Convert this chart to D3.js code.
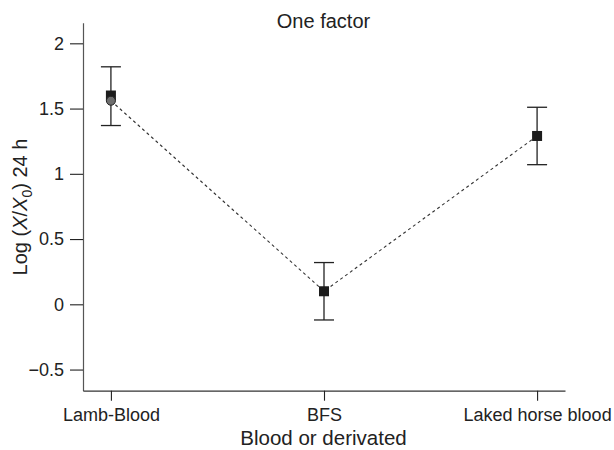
<!DOCTYPE html>
<html>
<head>
<meta charset="utf-8">
<script src="https://cdn.jsdelivr.net/npm/d3@7"></script>
<style>
  html, body { margin: 0; padding: 0; background: #fff; }
  svg { display: block; font-family: "Liberation Sans", Arial, Helvetica, sans-serif; }
</style>
</head>
<body>
<svg id="chart" width="614" height="450"></svg>
<script>
// Blood sources on the x axis
const categories = ["Lamb-Blood", "BFS", "Laked horse blood"];
// Mean log growth (squares)
const meanValues = [1.60, 0.10, 1.29];
// Second estimate shown as a circle (only visible for lamb blood)
const circleValues = [1.56, null, null];
// Values joined by the dotted line
const lineValues = [1.56, 0.10, 1.29];
// Error bar extents
const errLow = [1.37, -0.12, 1.07];
const errHigh = [1.82, 0.32, 1.51];
// Y tick values and labels
const yTicks = [-0.5, 0, 0.5, 1, 1.5, 2];
const yTickLabels = ["\u22120.5", "0", "0.5", "1", "1.5", "2"];

const svg = d3.select("#chart");
const ink = "#222";

const x = d3.scalePoint()
  .domain(categories)
  .range([83, 565])
  .padding(0.131);

const y = d3.scaleLinear()
  .domain([-0.662, 2.158])
  .range([390.7, 22.7]);

// Y axis
const yAxis = svg.append("g")
  .attr("transform", "translate(83,0)")
  .call(d3.axisLeft(y)
    .tickValues(yTicks)
    .tickFormat((d, i) => yTickLabels[i])
    .tickSizeInner(13)
    .tickSizeOuter(0)
    .tickPadding(6));
yAxis.select(".domain").attr("stroke", "#555").attr("stroke-width", 1.2);
yAxis.selectAll(".tick line").attr("stroke", ink).attr("stroke-width", 1.1);
yAxis.selectAll(".tick text").attr("fill", ink).attr("font-size", 18).attr("font-family", null);

// X axis
const xAxis = svg.append("g")
  .attr("transform", "translate(0,390.7)")
  .call(d3.axisBottom(x)
    .tickSizeInner(10)
    .tickSizeOuter(0)
    .tickPadding(8));
xAxis.select(".domain").attr("stroke", "#333").attr("stroke-width", 1.2);
xAxis.selectAll(".tick line").attr("stroke", ink).attr("stroke-width", 1.1);
xAxis.selectAll(".tick text").attr("fill", ink).attr("font-size", 18).attr("font-family", null);

// Dotted connecting line
const line = d3.line()
  .x((d, i) => x(categories[i]))
  .y(d => y(d));
svg.append("path")
  .datum(lineValues)
  .attr("d", line)
  .attr("fill", "none")
  .attr("stroke", "#333")
  .attr("stroke-width", 1.1)
  .attr("stroke-dasharray", "3,3");

// Error bars
const capHalf = 10;
const eb = svg.append("g").attr("stroke", ink).attr("stroke-width", 1.3);
categories.forEach((c, i) => {
  const cx = x(c);
  eb.append("line").attr("x1", cx).attr("x2", cx).attr("y1", y(errLow[i])).attr("y2", y(errHigh[i]));
  eb.append("line").attr("x1", cx - capHalf).attr("x2", cx + capHalf).attr("y1", y(errHigh[i])).attr("y2", y(errHigh[i]));
  eb.append("line").attr("x1", cx - capHalf).attr("x2", cx + capHalf).attr("y1", y(errLow[i])).attr("y2", y(errLow[i]));
});

// Square markers
const sq = 10;
svg.append("g").selectAll("rect")
  .data(meanValues)
  .join("rect")
  .attr("x", (d, i) => x(categories[i]) - sq / 2)
  .attr("y", d => y(d) - sq / 2)
  .attr("width", sq)
  .attr("height", sq)
  .attr("fill", "#1c1c1c");

// Circle markers
svg.append("g").selectAll("circle")
  .data(circleValues.map((v, i) => ({ v, c: categories[i] })).filter(d => d.v !== null))
  .join("circle")
  .attr("cx", d => x(d.c))
  .attr("cy", d => y(d.v))
  .attr("r", 4.5)
  .attr("fill", "#6e6e6e")
  .attr("stroke", ink)
  .attr("stroke-width", 1);

// Title
svg.append("text")
  .attr("x", 323.5)
  .attr("y", 28)
  .attr("text-anchor", "middle")
  .attr("font-size", 20)
  .attr("fill", ink)
  .text("One factor");

// X axis title
svg.append("text")
  .attr("x", 323.5)
  .attr("y", 445)
  .attr("text-anchor", "middle")
  .attr("font-size", 20.5)
  .attr("fill", ink)
  .text("Blood or derivated");

// Y axis title: Log (X/X0) 24 h
const yt = svg.append("text")
  .attr("transform", "translate(27,207) rotate(-90)")
  .attr("text-anchor", "middle")
  .attr("font-size", 20)
  .attr("fill", ink);
yt.append("tspan").text("Log (");
yt.append("tspan").attr("font-style", "italic").text("X");
yt.append("tspan").text("/");
yt.append("tspan").attr("font-style", "italic").text("X");
yt.append("tspan").attr("font-size", 14).attr("dy", 5).text("0");
yt.append("tspan").attr("dy", -5).text(") 24 h");
</script>
</body>
</html>
